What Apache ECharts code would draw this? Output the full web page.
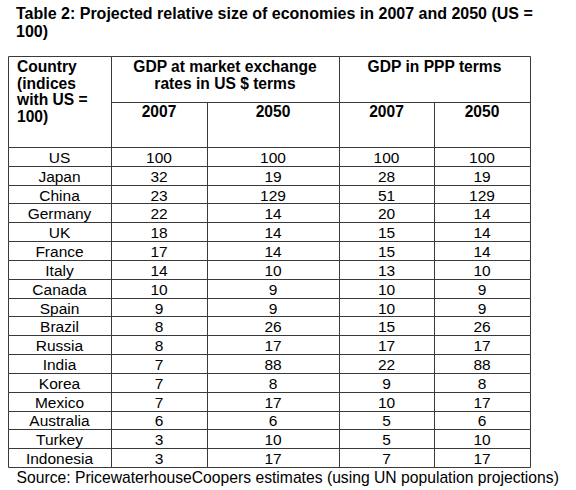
<!DOCTYPE html>
<html><head><meta charset="utf-8">
<script src="https://cdn.jsdelivr.net/npm/echarts@6/dist/echarts.min.js"></script>
<style>html,body{margin:0;padding:0;background:#fff}#c{width:576px;height:490px}</style>
</head><body><div id="c"></div>
<script>
var titleText = 'Table 2: Projected relative size of economies in 2007 and 2050 (US =\n100)';
var sourceText = 'Source: PricewaterhouseCoopers estimates (using UN population projections)';
var countryHeader = 'Country\n(indices\nwith US =\n100)';
var groupHeaders = ['GDP at market exchange\nrates in US $ terms', 'GDP in PPP terms'];
var yearHeaders = ['2007', '2050', '2007', '2050'];
var countries = ['US','Japan','China','Germany','UK','France','Italy','Canada','Spain','Brazil','Russia','India','Korea','Mexico','Australia','Turkey','Indonesia'];
var mer2007 = [100,32,23,22,18,17,14,10,9,8,8,7,7,7,6,3,3];
var mer2050 = [100,19,129,14,14,14,10,9,9,26,17,88,8,17,6,10,17];
var ppp2007 = [100,28,51,20,15,15,13,10,10,15,17,22,9,10,5,5,7];
var ppp2050 = [100,19,129,14,14,14,10,9,9,26,17,88,8,17,6,10,17];

// layout (not data)
var FONT = '"Liberation Sans", Arial, sans-serif';
var edges = [8, 111, 207, 339, 434, 530];
var tableTop = 56, groupBottom = 102, headBottom = 147, tableBottom = 467;
var lineColor = '#3a3a3a';
var columns = [countries, mer2007, mer2050, ppp2007, ppp2050];

function px(v){ return Math.round(v) + 0.5; }

var grids = [], xAxes = [], yAxes = [], series = [];
columns.forEach(function(col, k){
  grids.push({left: edges[k], top: headBottom, width: edges[k+1]-edges[k], height: tableBottom-headBottom, containLabel:false});
  xAxes.push({type:'category', gridIndex:k, data:['c'], show:false});
  yAxes.push({type:'category', gridIndex:k, data:countries, inverse:true, show:false});
  series.push({
    type:'custom', xAxisIndex:k, yAxisIndex:k,
    data: countries.map(function(c,i){ return [0, i]; }),
    renderItem: function(params, api){
      var c = api.coord([api.value(0), api.value(1)]);
      var s = api.size([1, 1]);
      var x0 = px(c[0]-s[0]/2), x1 = px(c[0]+s[0]/2);
      var y0 = px(c[1]-s[1]/2), y1 = px(c[1]+s[1]/2);
      return {type:'group', children:[
        {type:'rect', shape:{x:x0, y:y0, width:x1-x0, height:y1-y0},
         style:{fill:null, stroke:lineColor, lineWidth:1}},
        {type:'text', style:{text:String(col[params.dataIndex]), x:c[0], y:c[1]+1,
          align:'center', verticalAlign:'middle', textAlign:'center', textVerticalAlign:'middle',
          font:'15.5px ' + FONT, fill:'#000'}}
      ]};
    }
  });
});

function rect(xa, xb, ya, yb){
  return {type:'rect', silent:true, shape:{x:px(xa), y:px(ya), width:px(xb)-px(xa), height:px(yb)-px(ya)},
    style:{fill:null, stroke:lineColor, lineWidth:1}};
}
function txt(t, x, y, align){
  return {type:'text', silent:true, style:{text:t, x:x, y:y, align:align, verticalAlign:'top',
    textAlign:align, textVerticalAlign:'top', font:'bold 15.6px ' + FONT, fill:'#000', lineHeight:16.7}};
}
var g = [];
g.push(rect(edges[0], edges[1], tableTop, headBottom));
g.push(rect(edges[1], edges[3], tableTop, groupBottom));
g.push(rect(edges[3], edges[5], tableTop, groupBottom));
for (var k = 1; k < 5; k++) g.push(rect(edges[k], edges[k+1], groupBottom, headBottom));
g.push(txt(countryHeader, edges[0]+9, tableTop+2.2, 'left'));
g.push(txt(groupHeaders[0], (edges[1]+edges[3])/2, tableTop+2.2, 'center'));
g.push(txt(groupHeaders[1], (edges[3]+edges[5])/2, tableTop+2.2, 'center'));
for (var k = 1; k < 5; k++) g.push(txt(yearHeaders[k-1], (edges[k]+edges[k+1])/2, groupBottom+1.6, 'center'));

var chart = echarts.init(document.getElementById('c'), null, {renderer:'svg'});
chart.setOption({
  animation:false,
  backgroundColor:'#fff',
  title:[
    {text:titleText, left:16, top:4.5, padding:0,
     textStyle:{fontFamily:FONT, fontSize:16, fontWeight:'bold', color:'#000', lineHeight:17.7}},
    {text:sourceText, left:16.5, top:468, padding:0,
     textStyle:{fontFamily:FONT, fontSize:15.7, fontWeight:'normal', color:'#000', lineHeight:18}}
  ],
  grid:grids, xAxis:xAxes, yAxis:yAxes, series:series,
  graphic:{elements:g}
});
</script></body></html>
